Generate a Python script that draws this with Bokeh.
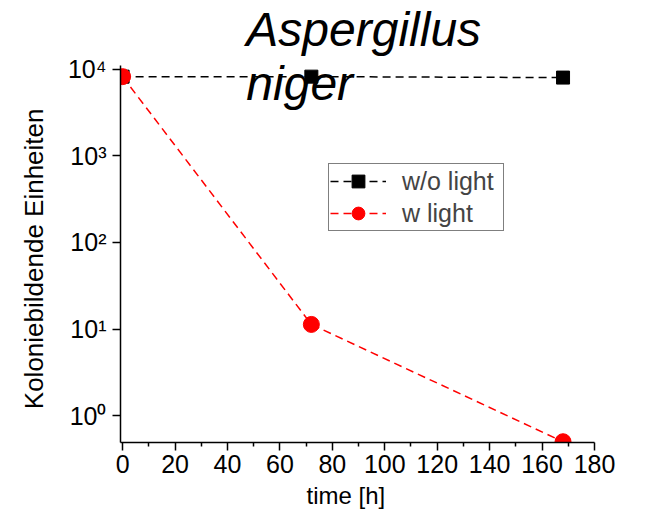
from bokeh.plotting import figure
from bokeh.models import Range1d, Label, Legend, LegendItem, FixedTicker, Title
from bokeh.embed import file_html
from bokeh.resources import INLINE

time_h = [0, 72, 168]
without_light = [8200, 8200, 8000]
with_light = [8200, 11.3, 0.5]
x_ticks = [0, 20, 40, 60, 80, 100, 120, 140, 160, 180]
x_minor = [10, 30, 50, 70, 90, 110, 130, 150, 170]
y_ticks = [1, 10, 100, 1000, 10000]
y_tick_labels = ["10⁰", "10¹", "10²", "10³", "10⁴"]

FONT = "Liberation Sans"
Y_LOW = 10 ** -0.31
Y_AXIS_TOP = 10 ** 4.046

p = figure(width=650, height=512, x_range=Range1d(-0.8, 180),
           y_range=Range1d(Y_LOW, 10 ** 4.793), y_axis_type="log",
           output_backend="svg", toolbar_location=None,
           min_border_left=119, min_border_right=56, min_border_top=0, min_border_bottom=69)
p.outline_line_color = None
p.xgrid.visible = False
p.ygrid.visible = False
p.background_fill_color = "white"
p.border_fill_color = "white"

for ax in (p.xaxis[0], p.yaxis[0]):
    ax.axis_line_color = "black"
    ax.axis_line_width = 1.5
    ax.major_tick_line_color = "black"
    ax.major_tick_line_width = 1.5
    ax.major_tick_in = 0
    ax.major_tick_out = 8
    ax.major_label_text_font = FONT
    ax.major_label_text_font_size = "25px"
    ax.major_label_text_color = "black"

p.xaxis.ticker = FixedTicker(ticks=x_ticks, minor_ticks=x_minor)
p.xaxis.minor_tick_line_color = "black"
p.xaxis.minor_tick_line_width = 1.5
p.xaxis.minor_tick_in = 0
p.xaxis.minor_tick_out = 4
p.xaxis.major_label_standoff = 4

p.yaxis.ticker = FixedTicker(ticks=y_ticks)
p.yaxis.bounds = (Y_LOW, Y_AXIS_TOP)
p.yaxis.minor_tick_line_color = None
p.yaxis.major_label_overrides = {t: lab for t, lab in zip(y_ticks, y_tick_labels)}
p.yaxis.major_label_standoff = 6

# axis titles placed as side titles so they can be offset like the reference
p.add_layout(Title(text="time [h]", align="left", offset=186, standoff=8,
                   text_font=FONT, text_font_size="24px", text_font_style="normal",
                   text_color="black"), "below")
p.add_layout(Title(text="Koloniebildende Einheiten", align="right", offset=108, standoff=32,
                   text_font=FONT, text_font_size="26px", text_font_style="normal",
                   text_color="black"), "left")

l1 = p.line(time_h, without_light, line_color="black", line_width=1.5, line_dash="8 5")
s1 = p.scatter(time_h, without_light, marker="square", size=13, fill_color="black", line_color="black")
l2 = p.line(time_h, with_light, line_color="red", line_width=1.5, line_dash="8 5")
s2 = p.scatter(time_h, with_light, marker="circle", size=16, fill_color="red", line_color="red")

legend = Legend(items=[LegendItem(label="w/o light", renderers=[l1, s1]),
                       LegendItem(label="w light", renderers=[l2, s2])],
                location=(208, 211))
legend.border_line_color = "black"
legend.border_line_width = 1
legend.background_fill_alpha = 1
legend.label_text_font = FONT
legend.label_text_font_size = "25px"
legend.glyph_width = 56
legend.glyph_height = 32
legend.label_standoff = 16
legend.label_width = 100
legend.padding = 1
legend.spacing = 0
legend.margin = 0
p.add_layout(legend)

for txt, yv in (("Aspergillus", 10 ** 4.46), ("niger", 10 ** 3.84)):
    p.add_layout(Label(x=47.2, y=yv, text=txt, text_font=FONT, text_font_style="italic",
                       text_font_size="48px", text_baseline="alphabetic", text_color="black"))

open("out.html", "w").write(file_html(p, INLINE))
